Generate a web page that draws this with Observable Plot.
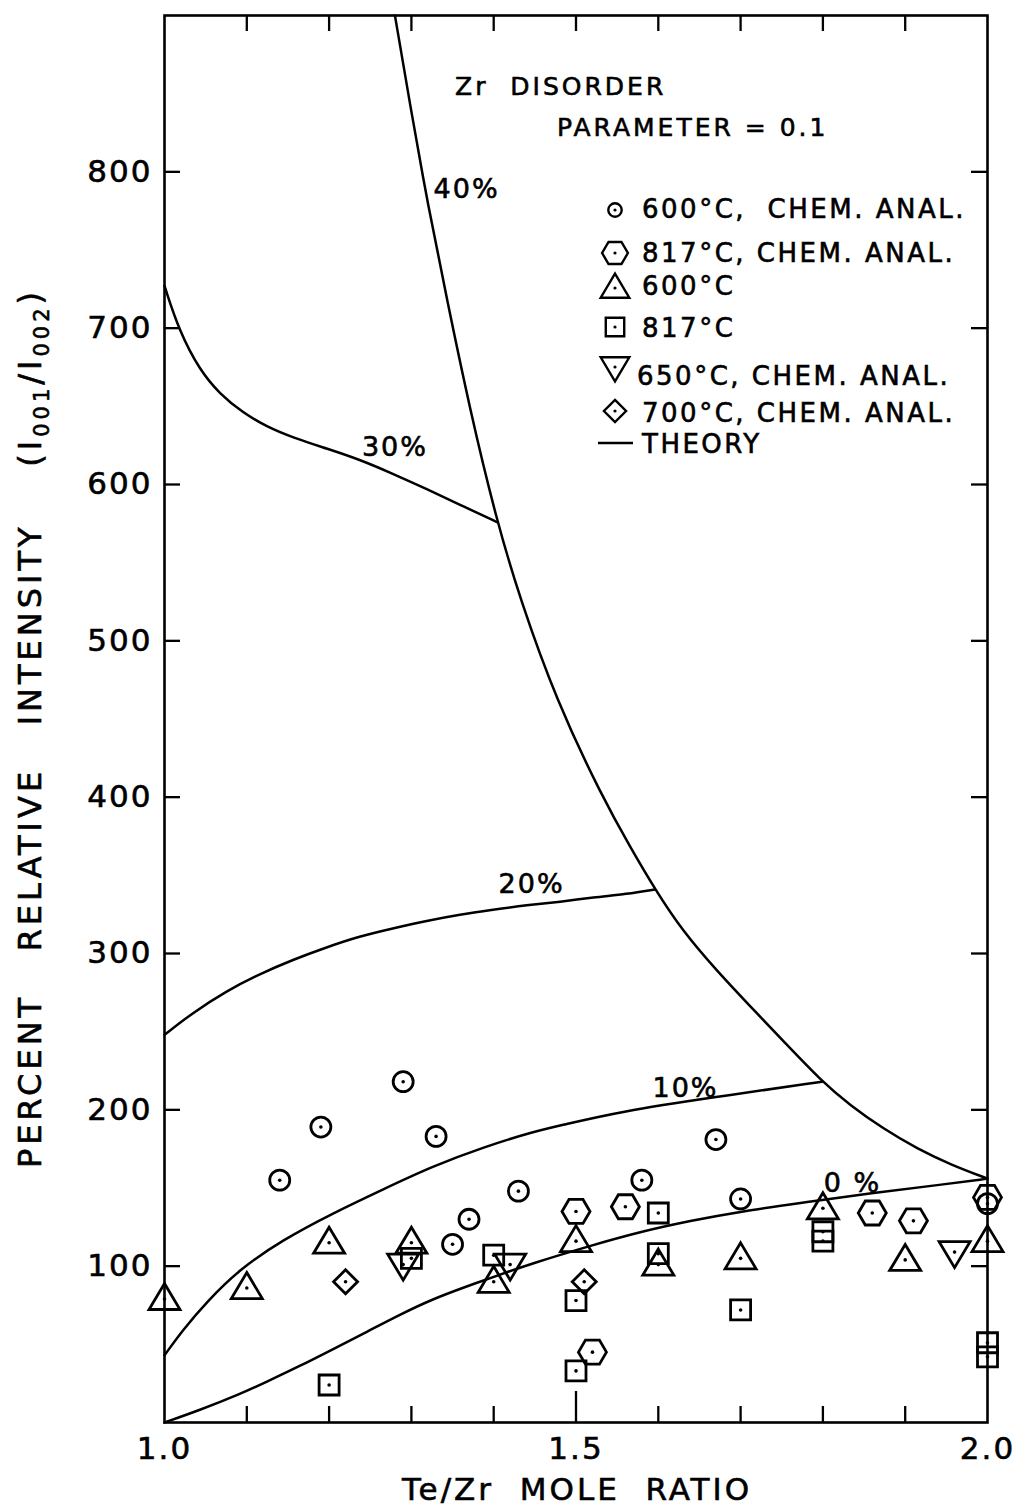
<!DOCTYPE html>
<html><head><meta charset="utf-8">
<script src="https://cdn.jsdelivr.net/npm/d3@7"></script>
<script src="https://cdn.jsdelivr.net/npm/@observablehq/plot@0.6"></script>
<style>
body{margin:0;background:#fff}
#chart{position:relative;width:1020px;height:1507px}
svg text{white-space:pre;stroke:black;stroke-width:0.6px}
</style>
</head><body><div id="chart"></div>
<script>
// ---- data (Te/Zr mole ratio, percent relative intensity) ----
const circle600 = [[1.14,155],[1.19,189],[1.29,218],[1.33,183],[1.35,114],[1.37,130],[1.43,148],[1.58,155],[1.67,181],[1.70,143],[2.0,140]];
const hex817 = [[1.50,135],[1.52,45],[1.56,138],[1.86,134],[1.91,129],[2.0,144]];
const tri600 = [[1.0,79],[1.10,86],[1.20,115],[1.30,115],[1.40,90],[1.50,116],[1.60,101],[1.70,105],[1.80,137],[1.90,104],[2.0,116]];
const sq817 = [[1.20,24],[1.30,105],[1.40,107],[1.50,78],[1.50,33],[1.60,134],[1.60,108],[1.70,72],[1.80,122],[1.80,116],[2.0,51],[2.0,42]];
const down650 = [[1.29,101],[1.42,101],[1.96,109]];
const diamond700 = [[1.22,90],[1.51,90]];

const curve40 = [[1.280,900],[1.300,838],[1.320,779],[1.343,719],[1.371,648],[1.404,576],[1.432,527],[1.476,462],[1.532,400],[1.566,368],[1.596,341],[1.630,314],[1.671,289],[1.712,266],[1.752,244],[1.799,218],[1.833,203],[1.873,188],[1.915,175],[1.955,165],[2.0,156]];
const curve30 = [[1.0,727],[1.018,698],[1.043,673],[1.067,658],[1.095,646],[1.124,637],[1.156,630],[1.197,623],[1.237,616],[1.277,607],[1.319,597],[1.359,587],[1.404,576]];
const curve20 = [[1.0,248],[1.034,262],[1.075,276],[1.116,287],[1.156,296],[1.197,304],[1.237,311],[1.277,316],[1.319,321],[1.359,325],[1.399,328],[1.440,331],[1.481,333],[1.521,336],[1.562,338],[1.596,341]];
const curve10 = [[1.0,43],[1.022,59],[1.051,77],[1.091,98],[1.144,117],[1.205,134],[1.265,149],[1.326,164],[1.387,176],[1.448,186],[1.481,190],[1.554,199],[1.667,208],[1.799,218]];
const curve0 = [[1.0,0],[1.043,8],[1.091,18],[1.124,26],[1.164,36],[1.205,47],[1.246,58],[1.286,69],[1.326,79],[1.367,87],[1.399,93],[1.448,102],[1.517,113],[1.578,122],[1.639,129],[1.700,135],[1.781,141],[1.861,147],[1.943,152],[2.0,156]];

const curveLabels = [{t:"40%",x:1.367,y:789},{t:"30%",x:1.280,y:624},{t:"20%",x:1.446,y:344},{t:"10%",x:1.633,y:214},{t:"0 %",x:1.836,y:153}];
const yLabels = [100,200,300,400,500,600,700,800];
const xMinorTicks = [1.1,1.2,1.3,1.4,1.6,1.7,1.8,1.9];
const xMajorTicks = [1.5];
const xTopTicks = [1.1,1.2,1.3,1.4,1.5,1.6,1.7,1.8,1.9];
const xLabels = [1.0,1.5,2.0];
const legendItems = [
  {sym:"circle", text:"600°C,  CHEM. ANAL."},
  {sym:"hex", text:"817°C, CHEM. ANAL."},
  {sym:"tri", text:"600°C"},
  {sym:"sq", text:"817°C"},
  {sym:"down", text:"650°C, CHEM. ANAL."},
  {sym:"dia", text:"700°C, CHEM. ANAL."},
  {sym:"line", text:"THEORY"}
];

// ---- symbols ----
function poly(pts){
  return {draw(ctx,size){
    const k=Math.sqrt(size/Math.PI)/10;
    ctx.moveTo(pts[0][0]*k,pts[0][1]*k);
    for(let i=1;i<pts.length;i++) ctx.lineTo(pts[i][0]*k,pts[i][1]*k);
    ctx.closePath();
  }};
}
const symbols = {
  circle:{draw(ctx,size){const r=Math.sqrt(size/Math.PI)*1.0; ctx.moveTo(r,0); ctx.arc(0,0,r,0,2*Math.PI);}},
  hex: poly([[14,0],[7,12],[-7,12],[-14,0],[-7,-12],[7,-12]]),
  tri: poly([[0,-15.5],[15.5,10.5],[-15.5,10.5]]),
  down: poly([[0,15.5],[-15.5,-10.5],[15.5,-10.5]]),
  sq: poly([[-10,-10],[10,-10],[10,10],[-10,10]]),
  dia: poly([[0,-12],[12,0],[0,12],[-12,0]])
};

const W=1020,H=1507,mL=164,mR=33,mT=15,mB=85;
const fw=W-mL-mR, fh=H-mT-mB;
const font="DejaVu Sans";
const series=[[circle600,"circle"],[hex817,"hex"],[tri600,"tri"],[sq817,"sq"],[down650,"down"],[diamond700,"dia"]];
const allPts=series.flatMap(s=>s[0]);

const marks=[
  Plot.frame({stroke:"black",strokeWidth:2.6}),
  Plot.ruleY(yLabels,{y:d=>d,insetRight:fw-16,stroke:"black",strokeWidth:2.3}),
  Plot.ruleY(yLabels,{y:d=>d,insetLeft:fw-16,stroke:"black",strokeWidth:2.3}),
  Plot.ruleX(xMinorTicks,{x:d=>d,insetTop:fh-16,stroke:"black",strokeWidth:2.3}),
  Plot.ruleX(xMajorTicks,{x:d=>d,insetTop:fh-31,stroke:"black",strokeWidth:2.3}),
  Plot.ruleX(xTopTicks,{x:d=>d,insetBottom:fh-16,stroke:"black",strokeWidth:2.3}),
  ...[curve40,curve30,curve20,curve10,curve0].map(c=>Plot.line(c,{x:d=>d[0],y:d=>d[1],curve:"basis",stroke:"black",strokeWidth:2.5})),
  ...series.map(([d,s])=>Plot.dot(d,{x:p=>p[0],y:p=>p[1],r:10,symbol:symbols[s],stroke:"black",strokeWidth:2.8,fill:"none"})),
  Plot.dot(allPts,{x:p=>p[0],y:p=>p[1],r:1.8,fill:"black"}),
  Plot.text(curveLabels,{x:"x",y:"y",text:"t",fontSize:27,fontFamily:font,fill:"black"}),
  Plot.text(yLabels,{y:d=>d,text:d=>String(d),frameAnchor:"left",textAnchor:"end",dx:-12,fontSize:31,fontFamily:font,fill:"black"}),
  Plot.text(xLabels,{x:d=>d,text:d=>d.toFixed(1),frameAnchor:"bottom",dy:36,fontSize:31,fontFamily:font,fill:"black"})
];

const plot=Plot.plot({
  width:W,height:H,marginLeft:mL,marginRight:mR,marginTop:mT,marginBottom:mB,
  x:{domain:[1,2],axis:null},
  y:{domain:[0,900],axis:null},
  style:{fontFamily:font,background:"white",color:"black",letterSpacing:"2px"},
  marks
});
document.getElementById("chart").appendChild(plot);

const svg=d3.select(plot);
// x-axis title
svg.append("text").attr("x",577).attr("y",1500).attr("text-anchor","middle")
  .attr("font-family",font).attr("font-size",31).attr("letter-spacing","3px").attr("fill","black")
  .text("Te/Zr  MOLE  RATIO");
// y-axis title with subscripts
const yt=svg.append("text").attr("transform","translate(41,728) rotate(-90)").attr("text-anchor","middle")
  .attr("font-family",font).attr("font-size",32).attr("letter-spacing","4px").attr("fill","black");
yt.append("tspan").text("PERCENT   RELATIVE   INTENSITY    (I");
yt.append("tspan").attr("font-size",21).attr("dy",8).text("001");
yt.append("tspan").attr("dy",-8).text("/I");
yt.append("tspan").attr("font-size",21).attr("dy",8).text("002");
yt.append("tspan").attr("dy",-8).text(")");

// annotation
svg.append("text").attr("x",455).attr("y",95).attr("text-anchor","start").attr("font-family",font).attr("font-size",25).attr("letter-spacing","3px").attr("fill","black").text("Zr  DISORDER");
svg.append("text").attr("x",557).attr("y",136).attr("text-anchor","start").attr("font-family",font).attr("font-size",25).attr("letter-spacing","3px").attr("fill","black").text("PARAMETER = 0.1");

// legend
const rowY=[218,262,295,337,385,422,453];
const symY=[210,253,288,327,367,411,443];
legendItems.forEach((it,i)=>{
  if(it.sym==="line"){
    svg.append("line").attr("x1",598).attr("x2",633).attr("y1",symY[i]).attr("y2",symY[i]).attr("stroke","black").attr("stroke-width",2.3);
  } else {
    const sz = it.sym==="circle" ? 100*Math.PI*0.45 : 100*Math.PI*0.85;
    svg.append("path").attr("d",d3.symbol(symbols[it.sym],sz)()).attr("transform",`translate(615,${symY[i]})`)
      .attr("fill","none").attr("stroke","black").attr("stroke-width",2.4);
    svg.append("circle").attr("cx",615).attr("cy",symY[i]).attr("r",1.6).attr("fill","black");
  }
  svg.append("text").attr("x",i===4?637:642).attr("y",rowY[i]).attr("text-anchor","start").attr("font-family",font).attr("font-size",26)
    .attr("letter-spacing","2.5px").attr("fill","black").text(it.text);
});
</script>
</body></html>
